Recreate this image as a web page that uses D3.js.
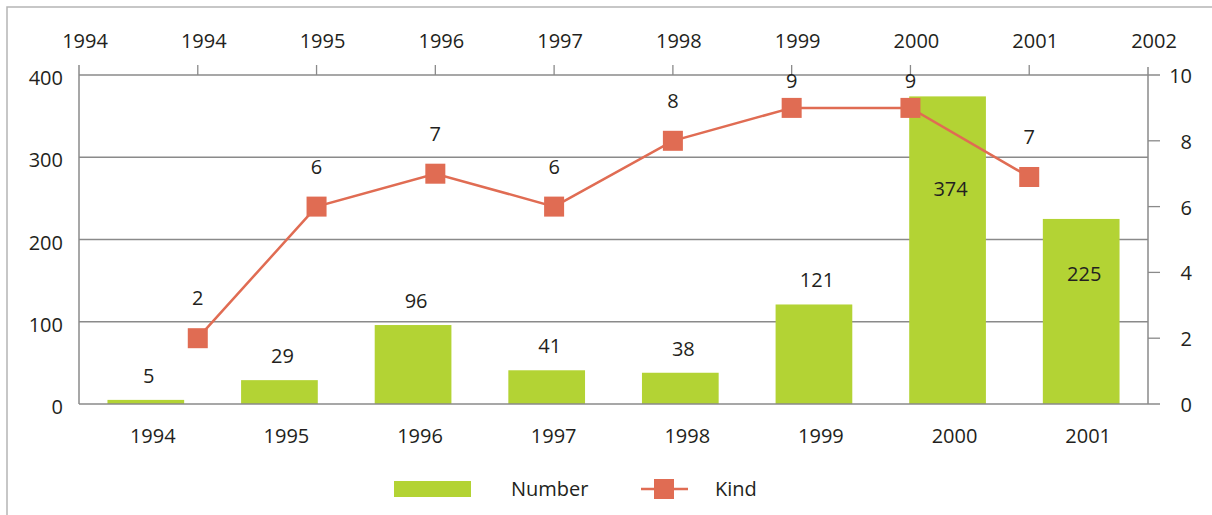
<!DOCTYPE html>
<html>
<head>
<meta charset="utf-8">
<script src="https://cdn.jsdelivr.net/npm/d3@7"></script>
<style>
  body { margin: 0; background: #fff; }
  text { font-family: 'Open Sans', sans-serif; fill: #231f20; }
</style>
</head>
<body>
<svg class="chart" width="1212" height="515"></svg>
<script>
// data
const years = ['1994', '1995', '1996', '1997', '1998', '1999', '2000', '2001']
const numberValues = [5, 29, 96, 41, 38, 121, 374, 225]
const kindValues = [2, 6, 7, 6, 8, 9, 9, 6.9]
const topTickLabels = ['1994', '1994', '1995', '1996', '1997', '1998', '1999', '2000', '2001', '2002']
const leftTicks = [0, 100, 200, 300, 400]
const rightTicks = [0, 2, 4, 6, 8, 10]

const green = '#b3d334'
const red = '#e06c53'
const grid = '#8a8a8a'

const svg = d3.select('.chart')
const plotLeft = 79
const plotRight = 1148
const plotTop = 75
const plotBottom = 404

// outer frame
svg.append('rect')
  .attr('x', 7)
  .attr('y', 7)
  .attr('width', 1400)
  .attr('height', 700)
  .attr('fill', 'none')
  .attr('stroke', '#b5b5b5')
  .attr('stroke-width', 1.5)

const x = d3.scaleBand()
  .domain(years)
  .range([plotLeft, plotRight])
  .paddingInner(0.426)
  .paddingOuter(0.213)

const xTop = d3.scaleLinear()
  .domain([0, topTickLabels.length - 1])
  .range([plotLeft, plotRight])

const y = d3.scaleLinear().domain([0, 400]).range([plotBottom, plotTop])
const y2 = d3.scaleLinear().domain([0, 10]).range([plotBottom, plotTop])

// gridlines
svg.append('g')
  .selectAll('line')
  .data(leftTicks.slice(1, -1))
  .enter()
  .append('line')
  .attr('x1', plotLeft)
  .attr('x2', plotRight)
  .attr('y1', d => y(d))
  .attr('y2', d => y(d))
  .attr('stroke', grid)
  .attr('stroke-width', 1.3)

// bars
svg.append('g')
  .selectAll('rect')
  .data(numberValues)
  .enter()
  .append('rect')
  .attr('x', (d, i) => x(years[i]))
  .attr('y', d => y(d))
  .attr('width', x.bandwidth())
  .attr('height', d => y(0) - y(d))
  .attr('fill', green)

// bar labels, big bars get the label inside
svg.append('g')
  .selectAll('text')
  .data(numberValues)
  .enter()
  .append('text')
  .attr('x', (d, i) => x(years[i]) + x.bandwidth() / 2 + 3)
  .attr('y', d => d > 200 ? y(d) + (y(0) - y(d)) * 0.3 : y(d) - 24)
  .attr('dy', '.35em')
  .attr('text-anchor', 'middle')
  .style('font-size', '20px')
  .text(d => d)

// axis lines
svg.append('line')
  .attr('x1', plotLeft).attr('x2', plotRight + 12)
  .attr('y1', plotTop).attr('y2', plotTop)
  .attr('stroke', grid).attr('stroke-width', 1.5)
svg.append('line')
  .attr('x1', plotLeft).attr('x2', plotRight + 12)
  .attr('y1', plotBottom).attr('y2', plotBottom)
  .attr('stroke', grid).attr('stroke-width', 1.5)
svg.append('line')
  .attr('x1', plotLeft).attr('x2', plotLeft)
  .attr('y1', plotTop - 10).attr('y2', plotBottom)
  .attr('stroke', grid).attr('stroke-width', 1.5)
svg.append('line')
  .attr('x1', plotRight).attr('x2', plotRight)
  .attr('y1', plotTop - 8).attr('y2', plotBottom)
  .attr('stroke', grid).attr('stroke-width', 1.5)

// left axis labels
svg.append('g')
  .selectAll('text')
  .data(leftTicks)
  .enter()
  .append('text')
  .attr('x', plotLeft - 16)
  .attr('y', d => y(d) + 3)
  .attr('dy', '.35em')
  .attr('text-anchor', 'end')
  .style('font-size', '20px')
  .text(d => d)

// right axis ticks and labels
svg.append('g')
  .selectAll('line')
  .data(rightTicks.slice(1, -1))
  .enter()
  .append('line')
  .attr('x1', plotRight)
  .attr('x2', plotRight + 12)
  .attr('y1', d => y2(d))
  .attr('y2', d => y2(d))
  .attr('stroke', grid)
  .attr('stroke-width', 1.3)

svg.append('g')
  .selectAll('text')
  .data(rightTicks)
  .enter()
  .append('text')
  .attr('x', 1192)
  .attr('y', d => y2(d) + 1)
  .attr('dy', '.35em')
  .attr('text-anchor', 'end')
  .style('font-size', '20px')
  .text(d => d)

// top axis ticks and labels
svg.append('g')
  .selectAll('line')
  .data(topTickLabels.slice(1, -1))
  .enter()
  .append('line')
  .attr('x1', (d, i) => xTop(i + 1))
  .attr('x2', (d, i) => xTop(i + 1))
  .attr('y1', plotTop - 10)
  .attr('y2', plotTop)
  .attr('stroke', grid)
  .attr('stroke-width', 1.3)

svg.append('g')
  .selectAll('text')
  .data(topTickLabels)
  .enter()
  .append('text')
  .attr('x', (d, i) => xTop(i) + 6)
  .attr('y', 41)
  .attr('dy', '.35em')
  .attr('text-anchor', 'middle')
  .style('font-size', '20px')
  .text(d => d)

// bottom category labels
svg.append('g')
  .selectAll('text')
  .data(years)
  .enter()
  .append('text')
  .attr('x', d => x(d) + x.bandwidth() / 2 + 7)
  .attr('y', 436)
  .attr('dy', '.35em')
  .attr('text-anchor', 'middle')
  .style('font-size', '20px')
  .text(d => d)

// kind line
const line = d3.line()
  .x((d, i) => xTop(i + 1))
  .y(d => y2(d))

svg.append('path')
  .datum(kindValues)
  .attr('d', line)
  .attr('fill', 'none')
  .attr('stroke', red)
  .attr('stroke-width', 2.5)

svg.append('g')
  .selectAll('rect')
  .data(kindValues)
  .enter()
  .append('rect')
  .attr('x', (d, i) => xTop(i + 1) - 10)
  .attr('y', d => y2(d) - 10)
  .attr('width', 20)
  .attr('height', 20)
  .attr('fill', red)

svg.append('g')
  .selectAll('text')
  .data(kindValues)
  .enter()
  .append('text')
  .attr('x', (d, i) => xTop(i + 1))
  .attr('y', d => Math.max(y2(d) - 40, 81))
  .attr('dy', '.35em')
  .attr('text-anchor', 'middle')
  .style('font-size', '20px')
  .text(d => d3.format('.0f')(d))

// legend
const legend = svg.append('g')
  .attr('transform', 'translate(394, 489)')

legend.append('rect')
  .attr('x', 0)
  .attr('y', -8)
  .attr('width', 77)
  .attr('height', 16)
  .attr('fill', green)

legend.append('text')
  .attr('x', 117)
  .attr('dy', '.35em')
  .style('font-size', '20px')
  .text('Number')

legend.append('line')
  .attr('x1', 247)
  .attr('x2', 294)
  .attr('y1', 0)
  .attr('y2', 0)
  .attr('stroke', red)
  .attr('stroke-width', 2.5)

legend.append('rect')
  .attr('x', 260)
  .attr('y', -10)
  .attr('width', 20)
  .attr('height', 20)
  .attr('fill', red)

legend.append('text')
  .attr('x', 321)
  .attr('dy', '.35em')
  .style('font-size', '20px')
  .text('Kind')
</script>
</body>
</html>
